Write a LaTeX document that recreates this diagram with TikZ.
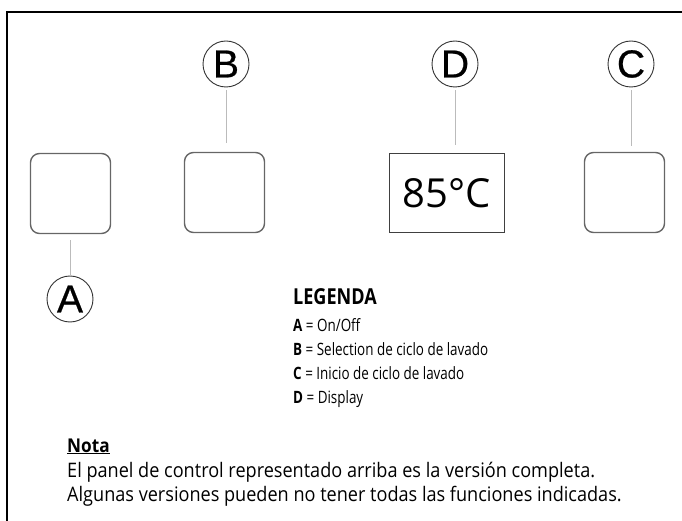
\documentclass[tikz,border=0pt]{standalone}
\usepackage{fontspec}
\setmainfont{Open Sans}
\newfontfamily\lblfont[FakeBold=0.6]{Liberation Sans}
\newfontfamily\headfont[FakeStretch=0.82]{Open Sans}
\newfontfamily\legfont[FakeStretch=0.79]{Open Sans}
\newfontfamily\notafont[FakeStretch=0.905]{Open Sans}
\newfontfamily\dispfont{Open Sans}
\definecolor{conngray}{HTML}{BBBBBB}
\definecolor{boxgray}{HTML}{666666}
\begin{document}
\begin{tikzpicture}[x=1pt,y=-1pt,
  circ/.style={circle, draw=black!80, line width=0.9pt, minimum size=46pt, inner sep=0pt,
    font=\lblfont\fontsize{39}{39}\selectfont},
  btn/.style={draw=boxgray, line width=1.4pt, rounded corners=9pt, minimum width=80pt, minimum height=80pt, inner sep=0pt},
  disp/.style={draw=black!75, line width=1.4pt, minimum width=115pt, minimum height=79pt, inner sep=0pt,
    font=\dispfont\fontsize{40}{40}\selectfont},
  conn/.style={draw=conngray, line width=0.9pt},
  leghead/.style={anchor=base west, inner sep=0pt, font=\headfont\bfseries\fontsize{22}{22}\selectfont},
  legtxt/.style={anchor=base west, inner sep=0pt, font=\legfont\fontsize{17}{17}\selectfont},
  notahead/.style={anchor=base west, inner sep=0pt, font=\notafont\bfseries\fontsize{19}{19}\selectfont},
  notatxt/.style={anchor=base west, inner sep=0pt, font=\notafont\fontsize{20}{20}\selectfont}
]
\useasboundingbox (0,0) rectangle (682,521);
% frame
\draw[line width=2pt] (7,521) -- (7,12) -- (682,12);

% buttons and display
\node[btn] (sqA) at (70.5,193.5) {};
\node[btn] (sqB) at (224.5,192.5) {};
\node[disp] (sqD) at (447,193) {85°C};
\node[btn] (sqC) at (624.5,192.5) {};

% label circles
\node[circ] (cB) at (226,64) {B};
\node[circ] (cD) at (455,64) {D};
\node[circ] (cC) at (631,64) {C};
\node[circ] (cA) at (70,299) {A};

% connectors
\draw[conn] ([yshift=-3pt]cB.south) -- ([yshift=9pt]cB.south |- sqB.north);
\draw[conn] ([yshift=-3pt]cD.south) -- ([yshift=8pt]cD.south |- sqD.north);
\draw[conn] ([yshift=-3pt]cC.south) -- ([yshift=6pt]cC.south |- sqC.north);
\draw[conn] ([yshift=-6pt]cA.north |- sqA.south) -- (cA.north);

% legend
\node[leghead] (lg) at (293,304) {LEGENDA};
\node[legtxt] (lA) at (293,331) {\textbf{A} = On/Off};
\node[legtxt] (lB) at (293,355) {\textbf{B} = Selection de ciclo de lavado};
\node[legtxt] (lC) at (293,379) {\textbf{C} = Inicio de ciclo de lavado};
\node[legtxt] (lD) at (293,403) {\textbf{D} = Display};

% nota
\node[notahead] (nt) at (67,452) {\underline{Nota}};
\node[notatxt] (n1) at (67,477) {El panel de control representado arriba es la versión completa.};
\node[notatxt] (n2) at (67,501) {Algunas versiones pueden no tener todas las funciones indicadas.};
\end{tikzpicture}
\end{document}
